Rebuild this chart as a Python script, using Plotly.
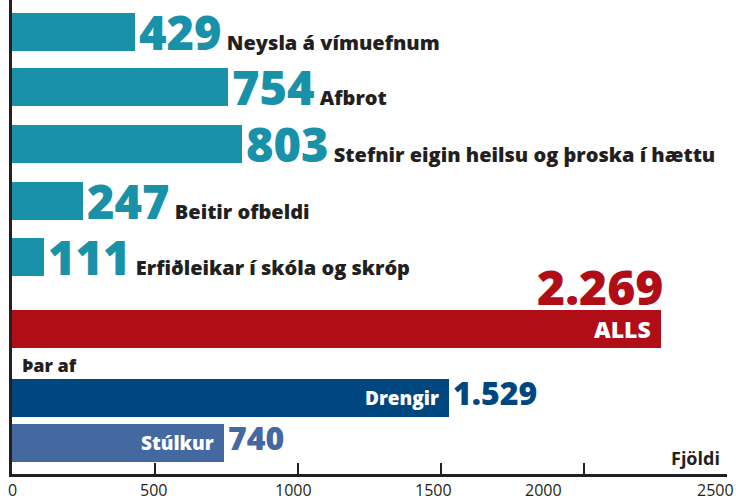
import plotly.graph_objects as go

# ---- data ----
categories = ["Neysla á vímuefnum", "Afbrot", "Stefnir eigin heilsu og þroska í hættu",
              "Beitir ofbeldi", "Erfiðleikar í skóla og skróp", "ALLS", "Drengir", "Stúlkur"]
values = [429, 754, 803, 247, 111, 2269, 1529, 740]
value_labels = ["429", "754", "803", "247", "111", "2.269", "1.529", "740"]
tick_values = [0, 500, 1000, 1500, 2000, 2500]
tick_labels = ["0", "500", "1000", "1500", "2000", "2500"]
subtitle = "Þar af"
axis_title = "Fjöldi"

# ---- layout / style ----
W, H = 736, 496
ML, MR, MT, MB = 12, 9, 0, 22
PLOT_H = H - MT - MB
bar_pos = [32, 87, 144, 200.5, 257, 329, 398, 443]   # vertical slot centres (px units of y axis)
bar_w = 38
TEAL, RED, DBLUE, LBLUE, INK = "#1991a8", "#b00d17", "#00467f", "#4468a0", "#231f20"
bar_colors = [TEAL] * 5 + [RED, DBLUE, LBLUE]
tick_label_shift = [0, -2, -5, -8, -41, -12]
FONT = "Open Sans"
HEAVY = 800

fig = go.Figure(go.Bar(
    x=values, y=bar_pos, orientation="h", width=bar_w,
    marker=dict(color=bar_colors, line=dict(width=0)),
    hoverinfo="skip",
))

ann = []
# first five: big number + category label
for i in range(5):
    ann.append(dict(
        x=values[i], y=bar_pos[i], xref="x", yref="y", xanchor="left", yanchor="middle",
        xshift=2, yshift=0, showarrow=False,
        text=(f"<span style='font-size:47px;color:{TEAL}'>{value_labels[i]}</span>"
              f"<span style='font-size:20px;color:{INK}'> {categories[i]}</span>"),
        font=dict(family=FONT, size=20, color=INK, weight=HEAVY),
    ))

# ALLS
ann.append(dict(x=values[5], y=bar_pos[5] - bar_w / 2, xref="x", yref="y",
                xanchor="right", yanchor="bottom", xshift=4, yshift=-11, showarrow=False,
                text=value_labels[5], font=dict(family=FONT, size=48, color=RED, weight=HEAVY)))
ann.append(dict(x=values[5], y=bar_pos[5], xref="x", yref="y",
                xanchor="right", yanchor="middle", xshift=-8, showarrow=False,
                text=categories[5], font=dict(family=FONT, size=23, color="white", weight=HEAVY)))
# Drengir / Stúlkur
for i, col in [(6, DBLUE), (7, LBLUE)]:
    ann.append(dict(x=values[i], y=bar_pos[i], xref="x", yref="y",
                    xanchor="right", yanchor="middle", xshift=-8, showarrow=False,
                    text=categories[i], font=dict(family=FONT, size=19, color="white", weight=HEAVY)))
    ann.append(dict(x=values[i], y=bar_pos[i], xref="x", yref="y",
                    xanchor="left", yanchor="middle", xshift=2, yshift=6, showarrow=False,
                    text=value_labels[i], font=dict(family=FONT, size=32, color=col, weight=HEAVY)))

# "Þar af"
ann.append(dict(x=0, y=bar_pos[6] - bar_w / 2, xref="x", yref="y",
                xanchor="left", yanchor="bottom", xshift=8, yshift=0, showarrow=False,
                text=subtitle, font=dict(family=FONT, size=18, color=INK, weight=HEAVY)))
# "Fjöldi"
ann.append(dict(x=tick_values[-1], y=0, xref="x", yref="paper",
                xanchor="right", yanchor="bottom", xshift=-5, yshift=2, showarrow=False,
                text=axis_title, font=dict(family=FONT, size=18, color=INK, weight=700)))
# tick labels
for v, t, s in zip(tick_values, tick_labels, tick_label_shift):
    ann.append(dict(x=v, y=0, xref="x", yref="paper", xanchor="center", yanchor="top",
                    xshift=s, yshift=-3, showarrow=False,
                    text=t, font=dict(family=FONT, size=16, color=INK)))

fig.update_layout(
    width=W, height=H, margin=dict(l=ML, r=MR, t=MT, b=MB, pad=0),
    paper_bgcolor="white", plot_bgcolor="white", showlegend=False,
    annotations=ann, bargap=0,
    xaxis=dict(range=[0, 2500], tickvals=tick_values, showticklabels=False,
               ticks="inside", ticklen=11, tickwidth=2, tickcolor=INK,
               showline=True, linecolor=INK, linewidth=2.5, showgrid=False, zeroline=False,
               fixedrange=True),
    yaxis=dict(range=[PLOT_H, 0], autorange=False, showticklabels=False, ticks="",
               showline=True, linecolor=INK, linewidth=3, showgrid=False, zeroline=False,
               fixedrange=True),
)

fig.write_html("out.html", config={"displayModeBar": False},
               post_script="document.body.style.margin='0';document.body.style.overflow='hidden';")
